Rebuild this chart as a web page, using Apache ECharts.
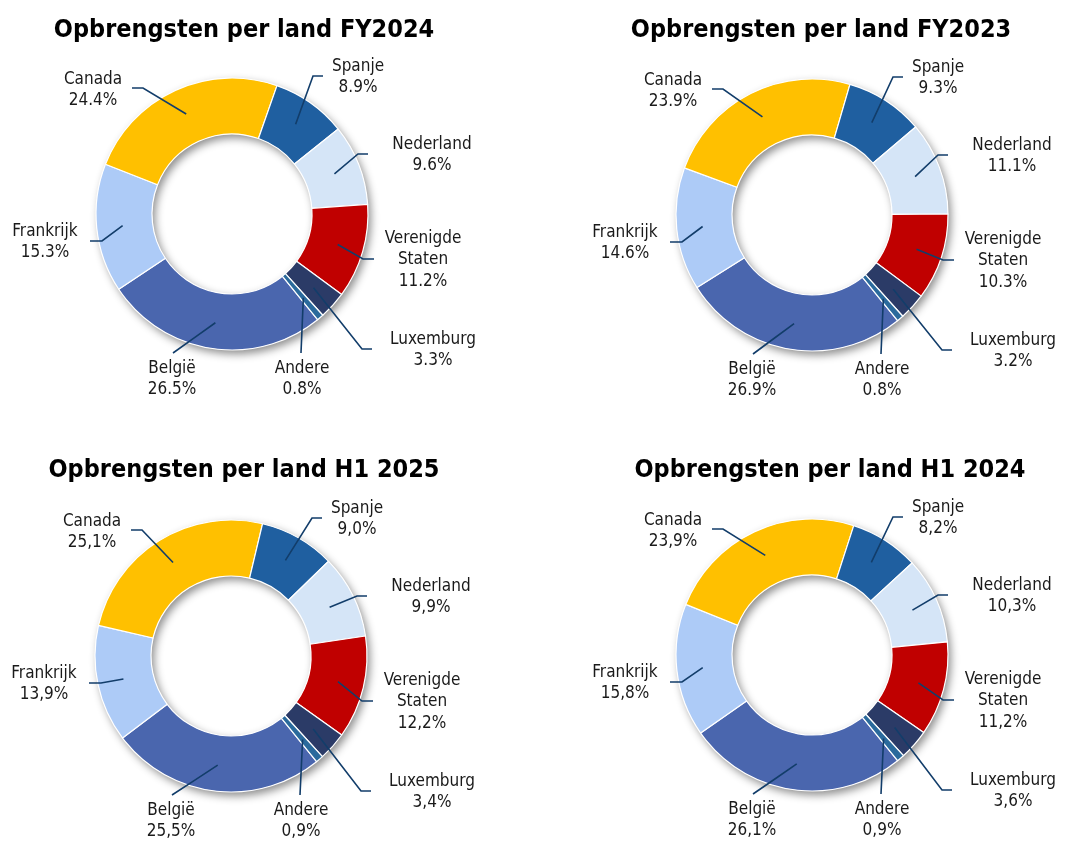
<!DOCTYPE html>
<html>
<head>
<meta charset="utf-8">
<script src="https://cdn.jsdelivr.net/npm/echarts@6/dist/echarts.min.js"></script>
<style>
  html, body { margin: 0; padding: 0; background: #ffffff; }
  #chart { width: 1078px; height: 841px; }
</style>
</head>
<body>
<div id="chart"></div>
<script>
// ---- DATA ----
const countries = ['België', 'Frankrijk', 'Canada', 'Spanje', 'Nederland', 'Verenigde Staten', 'Luxemburg', 'Andere'];
const labelNames = ['België', 'Frankrijk', 'Canada', 'Spanje', 'Nederland', 'Verenigde\nStaten', 'Luxemburg', 'Andere'];
const titles = ['Opbrengsten per land FY2024', 'Opbrengsten per land FY2023', 'Opbrengsten per land H1 2025', 'Opbrengsten per land H1 2024'];
const decimalSep = ['.', '.', ',', ','];
const fy2024 = [26.5, 15.3, 24.4, 8.9, 9.6, 11.2, 3.3, 0.8];
const fy2023 = [26.9, 14.6, 23.9, 9.3, 11.1, 10.3, 3.2, 0.8];
const h12025 = [25.5, 13.9, 25.1, 9.0, 9.9, 12.2, 3.4, 0.9];
const h12024 = [26.1, 15.8, 23.9, 8.2, 10.3, 11.2, 3.6, 0.9];
const seriesValues = [fy2024, fy2023, h12025, h12024];

// ---- STYLE / LAYOUT ----
const colors = ['#4A66AE', '#ADCBF7', '#FFC000', '#1F5FA0', '#D5E5F7', '#C00000', '#2B3B67', '#2A6A9C'];
const centers = [[232, 214], [812, 215], [231, 656], [812, 655]];
const titlePos = [[239, 13], [816, 13], [239, 453], [825, 453]];
const R_IN = 80, R_OUT = 136, R_LINE = 110;
const FIRST_ANGLE = 141; // degrees clockwise from 12 o'clock where the first slice starts
// label offsets from the pie centre: label centre, elbow, end of leader line
const labelLayoutCfg = [
  { lab: [-60, 165], elbow: null, end: [-59, 139] },       // België
  { lab: [-187, 28], elbow: [-130, 27], end: [-142, 27] }, // Frankrijk
  { lab: [-139, -124], elbow: [-89, -126], end: [-100, -126] }, // Canada
  { lab: [126, -137], elbow: [81, -138], end: [91, -138] },  // Spanje
  { lab: [200, -59], elbow: [126, -60], end: [136, -60] },   // Nederland
  { lab: [191, 46], elbow: [131, 45], end: [142, 45] },      // VS
  { lab: [201, 136], elbow: [130, 135], end: [140, 135] },   // Luxemburg
  { lab: [70, 165], elbow: null, end: [69, 139] }            // Andere
];
const FONT = "'DejaVu Sans Condensed', 'DejaVu Sans', sans-serif";

function midAngle(vals, idx) {
  const sum = vals.reduce((a, b) => a + b, 0);
  let cum = 0;
  for (let i = 0; i < idx; i++) cum += vals[i];
  return (FIRST_ANGLE + (cum + vals[idx] / 2) / sum * 360) * Math.PI / 180;
}

const chart = echarts.init(document.getElementById('chart'), null, { renderer: 'canvas' });

const title = titles.map((t, i) => ({
  text: t,
  left: titlePos[i][0],
  top: titlePos[i][1],
  textAlign: 'center',
  textStyle: { fontFamily: FONT, fontWeight: 'bold', fontSize: 25, color: '#000000' }
}));

const series = [];
seriesValues.forEach((vals, k) => {
  const c = centers[k];
  // background ring carrying the drop shadow
  series.push({
    type: 'pie',
    silent: true,
    z: 1,
    center: c,
    radius: [R_IN, R_OUT],
    startAngle: 90 - FIRST_ANGLE,
    animation: false,
    label: { show: false },
    labelLine: { show: false },
    itemStyle: {
      color: '#ffffff',
      shadowBlur: 9,
      shadowColor: 'rgba(0,0,0,0.45)',
      shadowOffsetX: 3,
      shadowOffsetY: 4
    },
    data: [{ value: 1, name: 'bg' }]
  });
  // coloured slices
  series.push({
    type: 'pie',
    z: 2,
    silent: true,
    center: c,
    radius: [R_IN, R_OUT],
    startAngle: 90 - FIRST_ANGLE,
    clockwise: true,
    animation: false,
    itemStyle: { borderColor: '#ffffff', borderWidth: 1.2 },
    label: { show: false },
    labelLine: { show: false },
    emphasis: { disabled: true },
    data: vals.map((v, i) => ({ value: v, name: countries[i], itemStyle: { color: colors[i] } }))
  });
  // transparent overlay carrying labels + leader lines on top of the slices
  series.push({
    type: 'pie',
    z: 3,
    silent: true,
    center: c,
    radius: [R_IN, R_OUT],
    startAngle: 90 - FIRST_ANGLE,
    clockwise: true,
    animation: false,
    avoidLabelOverlap: false,
    itemStyle: { color: 'rgba(0,0,0,0)', borderWidth: 0 },
    label: {
      show: true,
      position: 'outside',
      fontFamily: FONT,
      fontSize: 17,
      lineHeight: 21.5,
      color: '#1a1a1a',
      formatter: p => labelNames[p.dataIndex] + '\n' + vals[p.dataIndex].toFixed(1).replace('.', decimalSep[k]) + '%'
    },
    labelLine: { show: true, lineStyle: { color: '#123D6A', width: 1.6 } },
    labelLayout: function (p) {
      const cfg = labelLayoutCfg[p.dataIndex];
      const a = midAngle(vals, p.dataIndex);
      const s = [c[0] + R_LINE * Math.sin(a), c[1] - R_LINE * Math.cos(a)];
      const end = [c[0] + cfg.end[0], c[1] + cfg.end[1]];
      const elbow = cfg.elbow ? [c[0] + cfg.elbow[0], c[1] + cfg.elbow[1]] : [(s[0] + end[0]) / 2, (s[1] + end[1]) / 2];
      return {
        x: c[0] + cfg.lab[0],
        y: c[1] + cfg.lab[1],
        align: 'center',
        verticalAlign: 'middle',
        labelLinePoints: [s, elbow, end]
      };
    },
    emphasis: { disabled: true },
    data: vals.map((v, i) => ({ value: v, name: countries[i] }))
  });
});

chart.setOption({
  backgroundColor: '#ffffff',
  animation: false,
  title: title,
  series: series
});
</script>
</body>
</html>
